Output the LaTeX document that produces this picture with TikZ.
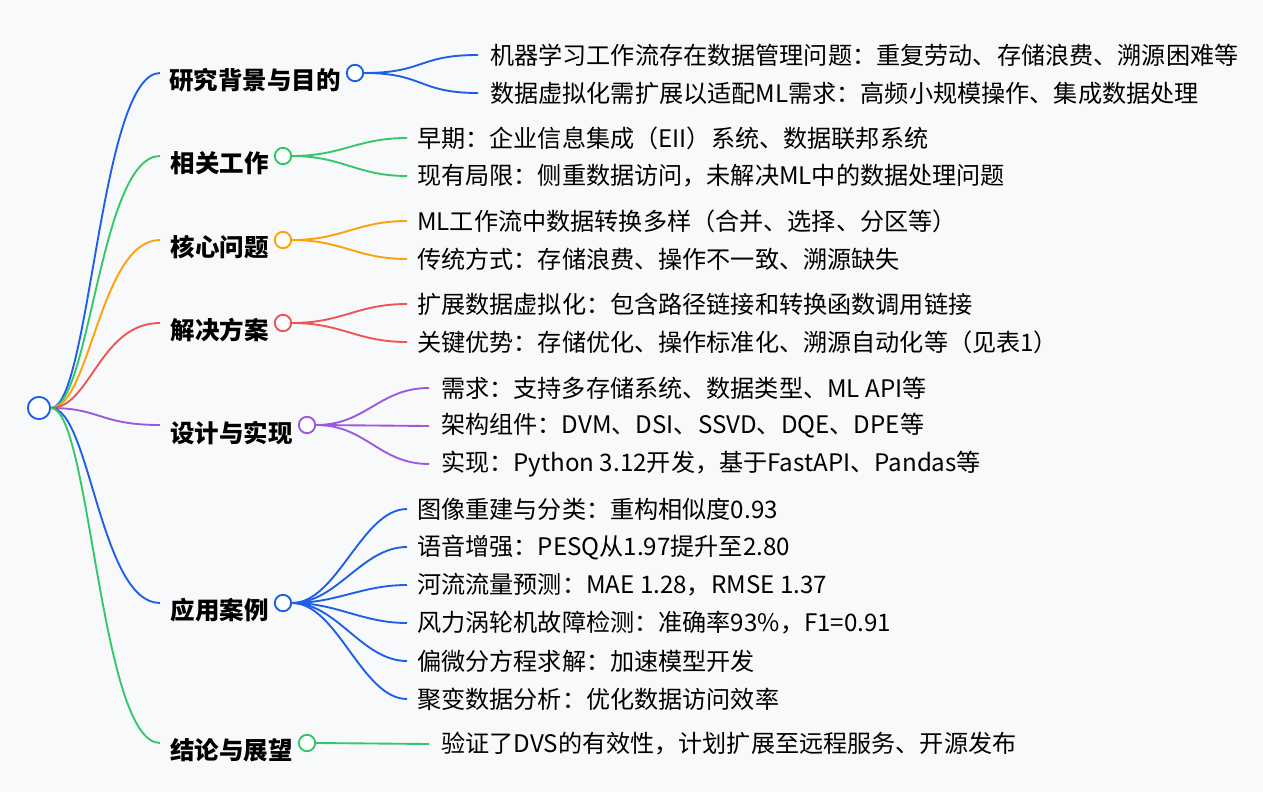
\documentclass[tikz,border=0pt]{standalone}
\usepackage{fontspec}
\setmainfont{Noto Sans CJK SC}
\usetikzlibrary{positioning}
\definecolor{cblue}{HTML}{1F5FE8}
\definecolor{cgreen}{HTML}{33C76A}
\definecolor{corange}{HTML}{FF9F0A}
\definecolor{cred}{HTML}{F05454}
\definecolor{cpurple}{HTML}{9B59E0}
\definecolor{bgc}{HTML}{F8F9FB}

\tikzset{
  dot/.style={circle,draw,fill=white,line width=1.6pt,minimum size=14pt,inner sep=0pt},
  rootdot/.style={dot,minimum size=19pt},
  blabel/.style={anchor=east,inner sep=0pt,font=\fontsize{20.9}{24}\selectfont\bfseries},
  leaf/.style={anchor=west,inner sep=0pt,font=\fontsize{20.6}{24}\selectfont},
  edge/.style={line width=1.6pt}
}

\begin{document}
\begin{tikzpicture}[x=0.03cm,y=-0.03cm]
	\fill[bgc] (0,0) rectangle (1263,792);
	\useasboundingbox (0,0) rectangle (1263,792);

	\node[rootdot,draw=cblue] (root) at (39,408) {};

	% branch circles
	\node[dot,draw=cblue] (b1) at (355,73) {};
	\node[dot,draw=cgreen] (b2) at (283,156) {};
	\node[dot,draw=corange] (b3) at (283,240) {};
	\node[dot,draw=cred] (b4) at (283,323) {};
	\node[dot,draw=cpurple] (b5) at (307,425) {};
	\node[dot,draw=cblue] (b6) at (283,603) {};
	\node[dot,draw=cgreen] (b7) at (307,743) {};

	% branch labels
	\node[blabel] (t1) at (341,80) {研究背景与目的};
	\node[blabel] (t2) at (269,163) {相关工作};
	\node[blabel] (t3) at (269,247) {核心问题};
	\node[blabel] (t4) at (269,330) {解决方案};
	\node[blabel] (t5) at (293,433) {设计与实现};
	\node[blabel] (t6) at (269,610) {应用案例};
	\node[blabel] (t7) at (293,750) {结论与展望};

	% ends of the root connectors
	\coordinate (e1) at (160,73);
	\coordinate (e2) at (160,156);
	\coordinate (e3) at (160,240);
	\coordinate (e4) at (160,323);
	\coordinate (e5) at (160,425);
	\coordinate (e6) at (160,603);
	\coordinate (e7) at (160,743);

	\draw[edge,cblue] (root.east) .. controls (90,408) and (100,73) .. (e1);
	\draw[edge,cgreen] (root.east) .. controls (90,408) and (100,156) .. (e2);
	\draw[edge,corange] (root.east) .. controls (90,408) and (100,240) .. (e3);
	\draw[edge,cred] (root.east) .. controls (90,408) and (100,323) .. (e4);
	\draw[edge,cpurple] (root.east) .. controls (100,408) and (100,425) .. (e5);
	\draw[edge,cblue] (root.east) .. controls (90,408) and (100,603) .. (e6);
	\draw[edge,cgreen] (root.east) .. controls (90,408) and (100,743) .. (e7);

	% leaves
	\node[leaf] (l11) at (490,55) {机器学习工作流存在数据管理问题：重复劳动、存储浪费、溯源困难等};
	\node[leaf] (l12) at (490,93) {数据虚拟化需扩展以适配ML需求：高频小规模操作、集成数据处理};
	\node[leaf] (l21) at (417,138) {早期：企业信息集成（EII）系统、数据联邦系统};
	\node[leaf] (l22) at (417,176) {现有局限：侧重数据访问，未解决ML中的数据处理问题};
	\node[leaf] (l31) at (417,221) {ML工作流中数据转换多样（合并、选择、分区等）};
	\node[leaf] (l32) at (417,259) {传统方式：存储浪费、操作不一致、溯源缺失};
	\node[leaf] (l41) at (417,304) {扩展数据虚拟化：包含路径链接和转换函数调用链接};
	\node[leaf] (l42) at (417,342) {关键优势：存储优化、操作标准化、溯源自动化等（见表1）};
	\node[leaf] (l51) at (441,388) {需求：支持多存储系统、数据类型、ML API等};
	\node[leaf] (l52) at (441,426) {架构组件：DVM、DSI、SSVD、DQE、DPE等};
	\node[leaf] (l53) at (441,464) {实现：Python 3.12开发，基于FastAPI、Pandas等};
	\node[leaf] (l61) at (417,509) {图像重建与分类：重构相似度0.93};
	\node[leaf] (l62) at (417,547) {语音增强：PESQ从1.97提升至2.80};
	\node[leaf] (l63) at (417,585) {河流流量预测：MAE 1.28，RMSE 1.37};
	\node[leaf] (l64) at (417,623) {风力涡轮机故障检测：准确率93\%，F1=0.91};
	\node[leaf] (l65) at (417,661) {偏微分方程求解：加速模型开发};
	\node[leaf] (l66) at (417,699) {聚变数据分析：优化数据访问效率};
	\node[leaf] (l71) at (441,744) {验证了DVS的有效性，计划扩展至远程服务、开源发布};

	\draw[edge,cblue] (b1.east) .. controls +(60,0) and +(-60,0) .. ([xshift=-12*0.03cm]l11.west);
	\draw[edge,cblue] (b1.east) .. controls +(60,0) and +(-60,0) .. ([xshift=-12*0.03cm]l12.west);
	\draw[edge,cgreen] (b2.east) .. controls +(50,0) and +(-50,0) .. ([xshift=-10*0.03cm]l21.west);
	\draw[edge,cgreen] (b2.east) .. controls +(50,0) and +(-50,0) .. ([xshift=-10*0.03cm]l22.west);
	\draw[edge,corange] (b3.east) .. controls +(50,0) and +(-50,0) .. ([xshift=-10*0.03cm]l31.west);
	\draw[edge,corange] (b3.east) .. controls +(50,0) and +(-50,0) .. ([xshift=-10*0.03cm]l32.west);
	\draw[edge,cred] (b4.east) .. controls +(50,0) and +(-50,0) .. ([xshift=-10*0.03cm]l41.west);
	\draw[edge,cred] (b4.east) .. controls +(50,0) and +(-50,0) .. ([xshift=-10*0.03cm]l42.west);
	\draw[edge,cpurple] (b5.east) .. controls +(50,0) and +(-50,0) .. ([xshift=-12*0.03cm]l51.west);
	\draw[edge,cpurple] (b5.east) -- ([xshift=-12*0.03cm]l52.west);
	\draw[edge,cpurple] (b5.east) .. controls +(50,0) and +(-50,0) .. ([xshift=-12*0.03cm]l53.west);
	\foreach \i in {1,...,6}
		\draw[edge,cblue] (b6.east) .. controls +(45,0) and +(-45,0) .. ([xshift=-10*0.03cm]l6\i.west);
	\draw[edge,cgreen] (b7.east) -- ([xshift=-12*0.03cm]l71.west);
\end{tikzpicture}
\end{document}
